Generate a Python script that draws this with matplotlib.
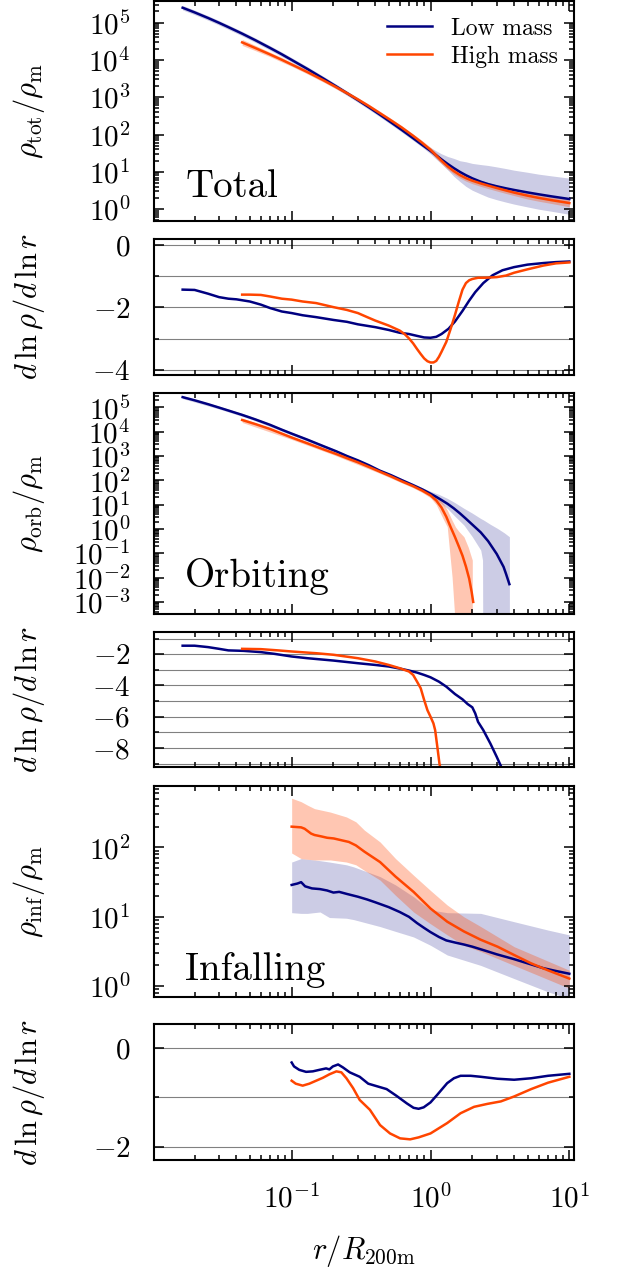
import numpy as np
import matplotlib
matplotlib.use('Agg')
import matplotlib.pyplot as plt
from matplotlib.ticker import LogLocator, MultipleLocator, NullFormatter

plt.rcParams['font.family'] = 'serif'
plt.rcParams['font.serif'] = ['cmr10']
plt.rcParams['mathtext.fontset'] = 'cm'
plt.rcParams['axes.formatter.use_mathtext'] = True
plt.rcParams['axes.linewidth'] = 1.5

LOW = 'navy'
HIGH = 'orangered'

# total density profiles, log10(rho / rho_m); scatter given as dex above / below
x_tot_low = [0.0164, 0.02, 0.025, 0.03, 0.035, 0.044, 0.055, 0.07, 0.085, 0.1,
             0.13, 0.17, 0.21, 0.25, 0.3, 0.36, 0.43, 0.52, 0.62, 0.75,
             0.87, 1.0, 1.1, 1.2, 1.33, 1.47, 1.63, 1.8, 2.0, 2.3,
             2.6, 3.0, 3.5, 4.0, 5.0, 6.0, 7.5, 10.0]
tot_low = [5.40, 5.275, 5.125, 4.995, 4.88, 4.705, 4.525, 4.32, 4.15, 4.00,
           3.757, 3.497, 3.287, 3.11, 2.922, 2.73, 2.537, 2.324, 2.124, 1.90,
           1.722, 1.56, 1.44, 1.332, 1.21, 1.10, 0.996, 0.908, 0.825, 0.734,
           0.67, 0.611, 0.556, 0.513, 0.447, 0.397, 0.339, 0.27]
tot_low_up = [0.06] * 21 + [0.09, 0.12, 0.15, 0.2, 0.26, 0.3, 0.36, 0.4, 0.46,
                            0.5, 0.52, 0.53, 0.53, 0.54, 0.54, 0.55, 0.56]
tot_low_dn = [0.06] * 21 + [0.08, 0.1, 0.12, 0.16, 0.22, 0.26, 0.3, 0.32, 0.33,
                            0.35, 0.36, 0.37, 0.38, 0.39, 0.4, 0.4, 0.41]

x_tot_high = [0.044, 0.055, 0.07, 0.085, 0.1, 0.13, 0.17, 0.21, 0.25, 0.3,
              0.36, 0.43, 0.52, 0.62, 0.75, 0.87, 1.0, 1.1, 1.2, 1.33,
              1.47, 1.63, 1.8, 2.0, 2.3, 2.6, 3.0, 3.5, 4.0, 5.0,
              6.0, 7.5, 10.0]
tot_high = [4.47, 4.316, 4.146, 4.003, 3.878, 3.673, 3.451, 3.267, 3.11, 2.94,
            2.762, 2.577, 2.378, 2.188, 1.964, 1.778, 1.589, 1.435, 1.296, 1.145,
            1.02, 0.912, 0.83, 0.761, 0.688, 0.63, 0.565, 0.498, 0.442, 0.36,
            0.301, 0.237, 0.162]
tot_high_err = [0.08, 0.07, 0.06, 0.06, 0.05, 0.05, 0.05, 0.05, 0.05, 0.05,
                0.05, 0.05, 0.05, 0.05, 0.05, 0.06, 0.07, 0.08, 0.08, 0.08,
                0.08, 0.08, 0.08, 0.08, 0.08, 0.08, 0.08, 0.08, 0.08, 0.09,
                0.09, 0.09, 0.1]

# logarithmic slope of the total profile
x_slope_tot_low = [0.0164, 0.02, 0.025, 0.03, 0.035, 0.04, 0.05, 0.06, 0.07, 0.085,
                   0.1, 0.12, 0.15, 0.2, 0.25, 0.3, 0.4, 0.5, 0.6, 0.7,
                   0.8, 0.9, 1.0, 1.1, 1.2, 1.35, 1.5, 1.7, 1.9, 2.1,
                   2.4, 2.8, 3.3, 4.0, 5.0, 6.5, 8.0, 10.0]
slope_tot_low = [-1.43, -1.44, -1.56, -1.67, -1.72, -1.74, -1.81, -1.91, -2.02, -2.13,
                 -2.18, -2.25, -2.31, -2.40, -2.46, -2.54, -2.63, -2.72, -2.81, -2.85,
                 -2.91, -2.96, -2.97, -2.94, -2.85, -2.68, -2.45, -2.11, -1.78, -1.51,
                 -1.22, -0.97, -0.81, -0.71, -0.63, -0.58, -0.55, -0.53]
x_slope_tot_high = [0.044, 0.05, 0.06, 0.07, 0.085, 0.1, 0.12, 0.15, 0.2, 0.25,
                    0.3, 0.35, 0.4, 0.5, 0.6, 0.65, 0.7, 0.75, 0.8, 0.85,
                    0.9, 0.95, 1.0, 1.05, 1.1, 1.15, 1.2, 1.3, 1.4, 1.5,
                    1.6, 1.7, 1.8, 1.9, 2.0, 2.2, 2.5, 3.0, 3.5, 4.0,
                    5.0, 6.5, 8.0, 10.0]
slope_tot_high = [-1.59, -1.59, -1.60, -1.65, -1.72, -1.75, -1.81, -1.86, -1.99, -2.08,
                  -2.18, -2.31, -2.42, -2.58, -2.74, -2.85, -2.99, -3.15, -3.33, -3.49,
                  -3.63, -3.72, -3.76, -3.76, -3.71, -3.58, -3.42, -3.10, -2.67, -2.24,
                  -1.81, -1.43, -1.22, -1.13, -1.09, -1.05, -1.05, -1.03, -0.98, -0.89,
                  -0.78, -0.66, -0.59, -0.56]

# orbiting density profiles
x_orb_low = [0.0164, 0.02, 0.025, 0.03, 0.035, 0.044, 0.055, 0.07, 0.085, 0.1,
             0.13, 0.17, 0.21, 0.25, 0.3, 0.36, 0.43, 0.52, 0.62, 0.75,
             0.87, 1.0, 1.1, 1.2, 1.33, 1.47, 1.63, 1.8, 2.0, 2.3,
             2.6, 3.0, 3.36, 3.5, 3.7]
orb_low = [5.42, 5.29, 5.13, 4.99, 4.87, 4.69, 4.50, 4.28, 4.08, 3.92,
           3.67, 3.40, 3.19, 3.00, 2.82, 2.62, 2.40, 2.21, 2.01, 1.80,
           1.63, 1.45, 1.32, 1.19, 1.03, 0.85, 0.64, 0.42, 0.18, -0.14,
           -0.50, -1.03, -1.56, -1.85, -2.27]
x_orb_low_band = [0.0164, 0.03, 0.05, 0.1, 0.2, 0.43, 0.75, 0.87, 1.0, 1.15,
                  1.32, 1.5, 1.74, 2.0, 2.3, 2.37, 2.39, 2.7, 3.04, 3.4, 3.7]
orb_low_hi = [5.48, 5.05, 4.65, 3.98, 3.30, 2.46, 1.87, 1.70, 1.55, 1.42,
              1.26, 1.08, 0.85, 0.65, 0.43, 0.39, 0.38, 0.19, 0.02, -0.16, -0.32]
orb_low_lo = [5.36, 4.93, 4.53, 3.86, 3.18, 2.34, 1.74, 1.56, 1.36, 1.12,
              0.85, 0.52, 0.16, -0.32, -0.87, -1.28, -8.0, -8.0, -8.0, -8.0, -8.0]

x_orb_high = [0.044, 0.055, 0.07, 0.085, 0.1, 0.13, 0.17, 0.21, 0.25, 0.3,
              0.36, 0.43, 0.52, 0.62, 0.75, 0.87, 1.0, 1.1, 1.2, 1.3,
              1.4, 1.5, 1.6, 1.7, 1.8, 1.9, 1.98, 2.03]
orb_high = [4.48, 4.31, 4.11, 3.92, 3.76, 3.52, 3.27, 3.08, 2.91, 2.74,
            2.55, 2.36, 2.16, 1.96, 1.76, 1.58, 1.38, 1.17, 0.88, 0.50,
            0.06, -0.33, -0.72, -1.10, -1.55, -2.05, -2.60, -3.0]
x_orb_high_band = [0.044, 0.1, 0.2, 0.43, 0.75, 0.87, 1.0, 1.1, 1.18, 1.25,
                   1.32, 1.355, 1.43, 1.49, 1.51, 1.6, 1.74, 1.87, 2.0]
orb_high_hi = [4.56, 3.82, 3.18, 2.42, 1.82, 1.65, 1.46, 1.32, 1.19, 1.0,
               0.78, 0.64, 0.36, 0.16, 0.09, -0.10, -0.32, -0.75, -1.28]
orb_high_lo = [4.38, 3.68, 3.05, 2.29, 1.69, 1.50, 1.28, 1.0, 0.64, 0.35,
               0.09, -0.60, -1.97, -3.5, -8.0, -8.0, -8.0, -8.0, -8.0]

# logarithmic slope of the orbiting profile
x_slope_orb_low = [0.0164, 0.02, 0.025, 0.03, 0.035, 0.045, 0.06, 0.075, 0.1, 0.13,
                   0.2, 0.3, 0.4, 0.5, 0.6, 0.7, 0.8, 0.9, 1.0, 1.15,
                   1.3, 1.5, 1.7, 1.85, 2.0, 2.1, 2.2, 2.4, 2.7, 3.0, 3.25]
slope_orb_low = [-1.46, -1.46, -1.55, -1.66, -1.76, -1.79, -1.87, -1.98, -2.15, -2.26,
                 -2.41, -2.58, -2.69, -2.79, -2.92, -3.05, -3.18, -3.33, -3.48, -3.76,
                 -4.08, -4.55, -4.89, -5.19, -5.40, -5.79, -6.33, -6.86, -7.72, -8.57, -9.25]
x_slope_orb_high = [0.044, 0.06, 0.08, 0.1, 0.15, 0.2, 0.3, 0.4, 0.5, 0.6,
                    0.7, 0.75, 0.8, 0.85, 0.9, 0.95, 1.0, 1.05, 1.08, 1.12, 1.16, 1.18]
slope_orb_high = [-1.66, -1.68, -1.76, -1.83, -1.94, -2.04, -2.26, -2.47, -2.69, -2.90,
                  -3.11, -3.33, -3.76, -4.18, -4.93, -5.58, -6.0, -6.43, -6.86, -7.93, -9.0, -9.32]

# infalling density profiles
x_inf_low = [0.1, 0.11, 0.117, 0.125, 0.14, 0.16, 0.18, 0.2, 0.22, 0.25,
             0.3, 0.35, 0.4, 0.5, 0.6, 0.7, 0.8, 0.9, 1.0, 1.15,
             1.3, 1.5, 1.75, 2.0, 2.5, 3.0, 4.0, 5.0, 6.5, 8.0, 10.0]
inf_low = [1.46, 1.48, 1.50, 1.44, 1.41, 1.40, 1.38, 1.35, 1.36, 1.33,
           1.29, 1.25, 1.21, 1.14, 1.07, 1.00, 0.91, 0.84, 0.78, 0.71,
           0.66, 0.63, 0.60, 0.57, 0.51, 0.46, 0.39, 0.33, 0.26, 0.22, 0.18]
x_inf_low_band = [0.1, 0.117, 0.13, 0.16, 0.187, 0.248, 0.28, 0.433, 0.56, 0.755,
                  1.0, 1.32, 2.3, 4.0, 7.0, 10.0]
inf_low_hi = [1.79, 1.84, 1.83, 1.81, 1.79, 1.75, 1.72, 1.58, 1.46, 1.29,
              1.10, 1.06, 1.05, 0.93, 0.81, 0.74]
inf_low_lo = [1.06, 1.05, 1.05, 1.07, 0.99, 0.98, 0.96, 0.86, 0.79, 0.71,
              0.59, 0.45, 0.30, 0.11, -0.08, -0.18]

x_inf_high = [0.1, 0.117, 0.124, 0.138, 0.146, 0.163, 0.18, 0.201, 0.233, 0.258,
              0.29, 0.334, 0.433, 0.56, 0.755, 1.0, 1.32, 1.74, 2.3, 3.04,
              4.0, 5.3, 7.0, 10.0]
inf_high = [2.30, 2.29, 2.27, 2.20, 2.18, 2.16, 2.14, 2.13, 2.10, 2.08,
            2.03, 1.94, 1.79, 1.58, 1.36, 1.12, 0.93, 0.79, 0.67, 0.57,
            0.45, 0.33, 0.23, 0.11]
x_inf_high_band = [0.1, 0.117, 0.13, 0.146, 0.19, 0.248, 0.29, 0.334, 0.433, 0.56,
                   0.755, 1.0, 1.32, 1.74, 2.3, 4.0, 10.0]
inf_high_hi = [2.71, 2.66, 2.61, 2.56, 2.51, 2.44, 2.37, 2.25, 2.08, 1.84,
               1.60, 1.38, 1.17, 1.0, 0.86, 0.57, 0.23]
inf_high_lo = [1.92, 1.84, 1.83, 1.82, 1.82, 1.79, 1.75, 1.67, 1.53, 1.31,
               1.07, 0.90, 0.74, 0.59, 0.50, 0.30, -0.03]

# logarithmic slope of the infalling profile
x_slope_inf_low = [0.1, 0.104, 0.1135, 0.127, 0.142, 0.158, 0.177, 0.187, 0.198, 0.216,
                   0.234, 0.262, 0.309, 0.356, 0.409, 0.483, 0.571, 0.675, 0.755, 0.821,
                   0.893, 1.0, 1.115, 1.318, 1.474, 1.646, 1.946, 2.3, 3.04, 4.0,
                   5.31, 7.02, 10.0]
slope_inf_low = [-0.29, -0.37, -0.44, -0.48, -0.47, -0.44, -0.41, -0.43, -0.37, -0.33,
                 -0.39, -0.49, -0.58, -0.72, -0.77, -0.83, -0.97, -1.12, -1.21, -1.23,
                 -1.20, -1.10, -0.95, -0.71, -0.61, -0.56, -0.56, -0.58, -0.62, -0.64,
                 -0.61, -0.56, -0.52]
x_slope_inf_high = [0.1, 0.107, 0.12, 0.134, 0.15, 0.168, 0.187, 0.21, 0.228, 0.248,
                    0.277, 0.309, 0.366, 0.433, 0.511, 0.604, 0.713, 0.821, 1.0, 1.318,
                    1.646, 2.06, 2.57, 3.21, 4.0, 5.31, 7.02, 10.0]
slope_inf_high = [-0.66, -0.72, -0.76, -0.72, -0.66, -0.60, -0.53, -0.47, -0.49, -0.61,
                  -0.81, -1.05, -1.25, -1.56, -1.73, -1.83, -1.85, -1.81, -1.73, -1.52,
                  -1.32, -1.19, -1.13, -1.08, -0.98, -0.83, -0.70, -0.58]


def style_axis(ax, log_y):
    ax.set_xscale('log')
    ax.set_xlim(0.0102, 10.8)
    if log_y:
        ax.set_yscale('log')
        ax.yaxis.set_major_locator(LogLocator(base=10, numticks=30))
        ax.yaxis.set_minor_locator(LogLocator(base=10, subs=np.arange(2, 10), numticks=300))
        ax.yaxis.set_minor_formatter(NullFormatter())
    else:
        ax.yaxis.set_major_locator(MultipleLocator(2))
        ax.yaxis.set_minor_locator(MultipleLocator(1))
    ax.xaxis.set_minor_locator(LogLocator(base=10, subs=np.arange(2, 10), numticks=30))
    ax.tick_params(which='both', direction='in', top=True, right=True, width=1.1)
    ax.tick_params(which='major', length=7, pad=17, labelsize=21)
    ax.tick_params(which='minor', length=3.5)
    ax.tick_params(axis='x', labelbottom=False)
    ax.yaxis.set_label_coords(-0.255, 0.5)


def band(ax, x, lo, hi, color, alpha):
    ax.fill_between(x, 10 ** np.array(lo), 10 ** np.array(hi), color=color, alpha=alpha, lw=0)


def line(ax, x, y, color, label=None):
    ax.plot(x, 10 ** np.array(y), color=color, lw=1.8, label=label)


def slope(ax, xl, yl, xh, yh, grid):
    for g in grid:
        ax.axhline(g, color='gray', lw=0.8, zorder=0)
    ax.plot(xl, yl, color=LOW, lw=1.8)
    ax.plot(xh, yh, color=HIGH, lw=1.8)


fig = plt.figure(figsize=(6.17, 12.78), dpi=100)
left, width = 0.2496, 0.6807
ax1 = fig.add_axes([left, 0.8271, width, 0.1721])
ax2 = fig.add_axes([left, 0.7066, width, 0.1064])
ax3 = fig.add_axes([left, 0.5196, width, 0.1729])
ax4 = fig.add_axes([left, 0.3998, width, 0.1056])
ax5 = fig.add_axes([left, 0.2199, width, 0.1651])
ax6 = fig.add_axes([left, 0.0923, width, 0.1064])
slope_label = r'$d\,\ln\rho/d\,\ln r$'

# total
t_low = np.array(tot_low)
t_high = np.array(tot_high)
band(ax1, x_tot_low, t_low - np.array(tot_low_dn), t_low + np.array(tot_low_up), LOW, 0.2)
band(ax1, x_tot_high, t_high - np.array(tot_high_err), t_high + np.array(tot_high_err), HIGH, 0.3)
line(ax1, x_tot_low, tot_low, LOW, 'Low mass')
line(ax1, x_tot_high, tot_high, HIGH, 'High mass')
style_axis(ax1, True)
ax1.set_ylim(0.48, 3.8e5)
ax1.set_ylabel(r'$\rho_{\rm tot}/\rho_{\rm m}$', fontsize=22)
ax1.text(0.074, 0.11, 'Total', transform=ax1.transAxes, fontsize=28)
ax1.legend(loc='upper right', frameon=False, fontsize=17, handlelength=1.9,
           borderaxespad=0.3, labelspacing=0.25)

slope(ax2, x_slope_tot_low, slope_tot_low, x_slope_tot_high, slope_tot_high, [0, -1, -2, -3, -4])
style_axis(ax2, False)
ax2.set_ylim(-4.16, 0.19)
ax2.set_ylabel(slope_label, fontsize=22)

# orbiting
band(ax3, x_orb_low_band, orb_low_lo, orb_low_hi, LOW, 0.2)
band(ax3, x_orb_high_band, orb_high_lo, orb_high_hi, HIGH, 0.3)
line(ax3, x_orb_low, orb_low, LOW)
line(ax3, x_orb_high, orb_high, HIGH)
style_axis(ax3, True)
ax3.set_ylim(3.2e-4, 3.9e5)
ax3.set_ylabel(r'$\rho_{\rm orb}/\rho_{\rm m}$', fontsize=22)
ax3.text(0.074, 0.124, 'Orbiting', transform=ax3.transAxes, fontsize=28)

slope(ax4, x_slope_orb_low, slope_orb_low, x_slope_orb_high, slope_orb_high, range(-1, -10, -1))
style_axis(ax4, False)
ax4.set_ylim(-9.22, -0.59)
ax4.set_ylabel(slope_label, fontsize=22)

# infalling
band(ax5, x_inf_low_band, inf_low_lo, inf_low_hi, LOW, 0.2)
band(ax5, x_inf_high_band, inf_high_lo, inf_high_hi, HIGH, 0.3)
line(ax5, x_inf_low, inf_low, LOW)
line(ax5, x_inf_high, inf_high, HIGH)
style_axis(ax5, True)
ax5.set_ylim(0.70, 770)
ax5.set_ylabel(r'$\rho_{\rm inf}/\rho_{\rm m}$', fontsize=22)
ax5.text(0.074, 0.079, 'Infalling', transform=ax5.transAxes, fontsize=28)

slope(ax6, x_slope_inf_low, slope_inf_low, x_slope_inf_high, slope_inf_high, [0, -1, -2])
style_axis(ax6, False)
ax6.set_ylim(-2.27, 0.49)
ax6.set_ylabel(slope_label, fontsize=22)
ax6.tick_params(axis='x', labelbottom=True)
ax6.set_xlabel(r'$r/R_{\rm 200m}$', fontsize=22, labelpad=14)

fig.savefig('out.png', dpi=100)
